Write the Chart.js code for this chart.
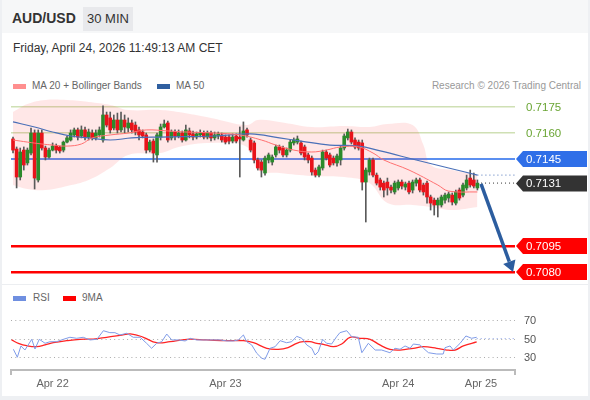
<!DOCTYPE html>
<html>
<head>
<meta charset="utf-8">
<script src="https://cdn.jsdelivr.net/npm/chart.js@4.4.1/dist/chart.umd.min.js"></script>
<style>
  html, body { margin: 0; padding: 0; }
  body { width: 590px; height: 400px; background: #eef0f3; position: relative; overflow: hidden;
         font-family: "Liberation Sans", Arial, sans-serif; }
  #card { position: absolute; left: 2px; top: 0; width: 586px; height: 396px; background: #fff; }
  #head { position: absolute; left: 2px; top: 0; width: 586px; height: 33px; background: #f6f7f8; }
  #pair { position: absolute; left: 12px; top: 10px; font-size: 14px; font-weight: bold; color: #333; }
  #tf { position: absolute; left: 83px; top: 7px; width: 50px; height: 24px; line-height: 24px; text-align: center;
        background: #e8e9ec; color: #333; font-size: 13px; }
  #date { position: absolute; left: 13px; top: 41px; font-size: 12px; color: #333; }
  .leg { position: absolute; font-size: 10px; color: #666; white-space: nowrap; }
  .sw { position: absolute; height: 5px; width: 13px; }
  #copy { position: absolute; right: 9px; top: 80px; font-size: 10px; color: #999; }
  #sep { position: absolute; left: 2px; top: 284px; width: 586px; height: 1px; background: #eceef1; }
  canvas { position: absolute; left: 0; }
  #main { top: 95px; }
  #rsi { top: 288px; }
</style>
</head>
<body>
<div id="card"></div>
<div id="head"></div>
<div id="pair">AUD/USD</div>
<div id="tf">30 MIN</div>
<div id="date">Friday, April 24, 2026 11:49:13 AM CET</div>

<div class="sw" style="left:13px;top:84px;background:#ff8f8f"></div>
<div class="leg" style="left:32px;top:80px">MA 20 + Bollinger Bands</div>
<div class="sw" style="left:157px;top:84px;background:#2f5fa0"></div>
<div class="leg" style="left:176px;top:80px">MA 50</div>
<div id="copy">Research © 2026 Trading Central</div>
<div id="sep"></div>

<div class="sw" style="left:13px;top:296px;background:#6f8fe0"></div>
<div class="leg" style="left:33px;top:292px">RSI</div>
<div class="sw" style="left:63px;top:296px;background:#ff0000"></div>
<div class="leg" style="left:82px;top:292px">9MA</div>

<canvas id="main" width="590" height="188"></canvas>
<canvas id="rsi" width="590" height="107"></canvas>

<script>
// 30 min candles, index 0 = Apr 21 18:30
const open = [0.71566,0.71508,0.71347,0.71502,0.71428,0.71485,0.71600,0.71330,0.71600,0.71514,
  0.71462,0.71502,0.71525,0.71520,0.71502,0.71548,0.71560,0.71589,0.71618,0.71583,
  0.71618,0.71577,0.71600,0.71572,0.71589,0.71560,0.71704,0.71687,0.71629,0.71675,
  0.71618,0.71675,0.71629,0.71658,0.71646,0.71618,0.71606,0.71589,0.71502,0.71554,
  0.71474,0.71577,0.71635,0.71658,0.71572,0.71606,0.71583,0.71600,0.71560,0.71612,
  0.71595,0.71577,0.71589,0.71600,0.71577,0.71600,0.71572,0.71583,0.71589,0.71577,
  0.71577,0.71554,0.71583,0.71577,0.71560,0.71618,0.71560,0.71543,0.71445,0.71433,
  0.71370,0.71445,0.71433,0.71474,0.71520,0.71514,0.71474,0.71502,0.71543,0.71548,
  0.71543,0.71520,0.71474,0.71456,0.71387,0.71358,0.71399,0.71491,0.71474,0.71456,
  0.71428,0.71445,0.71514,0.71572,0.71606,0.71560,0.71548,0.71543,0.71318,0.71376,
  0.71445,0.71358,0.71330,0.71312,0.71318,0.71289,0.71261,0.71284,0.71318,0.71289,
  0.71312,0.71272,0.71312,0.71330,0.71301,0.71312,0.71232,0.71214,0.71186,0.71186,
  0.71214,0.71226,0.71243,0.71197,0.71272,0.71243,0.71284,0.71341,0.71330,0.71284];
const high = [0.71577,0.71520,0.71514,0.71520,0.71514,0.71629,0.71618,0.71618,0.71618,0.71525,
  0.71514,0.71543,0.71537,0.71525,0.71554,0.71583,0.71618,0.71629,0.71629,0.71641,
  0.71635,0.71623,0.71618,0.71618,0.71635,0.71756,0.71721,0.71721,0.71704,0.71715,
  0.71721,0.71704,0.71687,0.71675,0.71664,0.71635,0.71618,0.71600,0.71560,0.71566,
  0.71600,0.71652,0.71675,0.71669,0.71618,0.71618,0.71618,0.71612,0.71646,0.71629,
  0.71612,0.71606,0.71618,0.71612,0.71612,0.71612,0.71606,0.71606,0.71600,0.71589,
  0.71589,0.71595,0.71595,0.71635,0.71664,0.71629,0.71572,0.71554,0.71456,0.71445,
  0.71468,0.71485,0.71474,0.71531,0.71531,0.71525,0.71514,0.71560,0.71572,0.71583,
  0.71554,0.71531,0.71485,0.71468,0.71399,0.71416,0.71502,0.71502,0.71485,0.71468,
  0.71479,0.71525,0.71595,0.71623,0.71618,0.71572,0.71560,0.71560,0.71399,0.71456,
  0.71456,0.71370,0.71341,0.71324,0.71341,0.71301,0.71324,0.71330,0.71330,0.71318,
  0.71324,0.71330,0.71341,0.71341,0.71312,0.71324,0.71243,0.71226,0.71226,0.71243,
  0.71255,0.71261,0.71255,0.71272,0.71284,0.71312,0.71358,0.71387,0.71370,0.71330];
const low = [0.71485,0.71284,0.71330,0.71387,0.71416,0.71474,0.71278,0.71318,0.71502,0.71445,
  0.71456,0.71497,0.71485,0.71485,0.71491,0.71543,0.71554,0.71577,0.71560,0.71572,
  0.71560,0.71560,0.71560,0.71560,0.71577,0.71548,0.71635,0.71600,0.71618,0.71600,
  0.71606,0.71600,0.71606,0.71600,0.71589,0.71560,0.71572,0.71485,0.71491,0.71433,
  0.71433,0.71560,0.71629,0.71548,0.71560,0.71560,0.71572,0.71548,0.71554,0.71572,
  0.71560,0.71566,0.71577,0.71566,0.71566,0.71554,0.71560,0.71566,0.71548,0.71537,
  0.71537,0.71543,0.71543,0.71347,0.71554,0.71577,0.71491,0.71428,0.71387,0.71347,
  0.71358,0.71428,0.71416,0.71462,0.71485,0.71462,0.71462,0.71491,0.71531,0.71537,
  0.71474,0.71445,0.71428,0.71358,0.71347,0.71347,0.71387,0.71445,0.71405,0.71416,
  0.71410,0.71416,0.71502,0.71560,0.71537,0.71508,0.71502,0.71272,0.71088,0.71358,
  0.71347,0.71301,0.71272,0.71232,0.71243,0.71255,0.71249,0.71272,0.71278,0.71272,
  0.71249,0.71255,0.71295,0.71261,0.71243,0.71197,0.71157,0.71128,0.71117,0.71174,
  0.71197,0.71203,0.71186,0.71186,0.71214,0.71232,0.71272,0.71289,0.71284,0.71272];
const close = [0.71502,0.71347,0.71491,0.71416,0.71502,0.71600,0.71341,0.71600,0.71514,0.71462,
  0.71502,0.71525,0.71502,0.71497,0.71548,0.71572,0.71600,0.71618,0.71577,0.71618,
  0.71577,0.71606,0.71572,0.71600,0.71618,0.71704,0.71646,0.71618,0.71675,0.71618,
  0.71675,0.71635,0.71658,0.71618,0.71606,0.71589,0.71583,0.71502,0.71548,0.71485,
  0.71589,0.71635,0.71652,0.71560,0.71606,0.71583,0.71600,0.71560,0.71618,0.71589,
  0.71577,0.71595,0.71600,0.71577,0.71600,0.71572,0.71589,0.71595,0.71560,0.71548,
  0.71554,0.71577,0.71554,0.71566,0.71612,0.71589,0.71502,0.71445,0.71399,0.71387,
  0.71456,0.71474,0.71462,0.71520,0.71502,0.71474,0.71502,0.71548,0.71560,0.71566,
  0.71485,0.71462,0.71445,0.71376,0.71358,0.71405,0.71491,0.71456,0.71416,0.71428,
  0.71468,0.71514,0.71583,0.71606,0.71548,0.71520,0.71514,0.71318,0.71387,0.71445,
  0.71358,0.71312,0.71289,0.71272,0.71284,0.71272,0.71312,0.71318,0.71295,0.71307,
  0.71261,0.71318,0.71330,0.71272,0.71261,0.71232,0.71197,0.71186,0.71214,0.71232,
  0.71243,0.71249,0.71203,0.71261,0.71226,0.71301,0.71330,0.71301,0.71295,0.71312];

// moving averages / bands, sampled at candle indices
const ma50X = [0, 6, 11, 16, 21, 27, 33, 41, 56, 66, 74, 80, 88, 96, 102, 112, 121, 129];
const ma50 = [0.71664,0.71635,0.71606,0.71583,0.71572,0.71560,0.71572,0.71577,0.71583,0.71595,
  0.71572,0.71554,0.71531,0.71525,0.71497,0.71445,0.71399,0.71358];
const ma20X = [0, 4, 8, 11, 15, 19, 22, 27, 32, 37, 43, 48, 56, 63, 69, 73, 78, 83, 87, 91, 96, 100, 103, 110, 118, 121, 129];
const ma20 = [0.71560,0.71548,0.71537,0.71531,0.71525,0.71537,0.71572,0.71589,0.71600,0.71618,
  0.71612,0.71606,0.71600,0.71589,0.71560,0.71531,0.71502,0.71491,0.71502,0.71520,
  0.71520,0.71485,0.71445,0.71387,0.71301,0.71266,0.71261];
const bandX = [0, 4, 9, 15, 21, 27, 32, 41, 46, 55, 65, 68, 74, 83, 92, 99, 104, 111, 114, 116, 122, 129];
const bandUp = [0.71721,0.71767,0.71790,0.71790,0.71779,0.71762,0.71733,0.71733,0.71721,0.71687,
  0.71646,0.71675,0.71664,0.71635,0.71641,0.71635,0.71652,0.71646,0.71531,0.71416,0.71387,0.71358];
const bandLow = [0.71301,0.71278,0.71272,0.71295,0.71330,0.71399,0.71474,0.71485,0.71520,0.71543,
  0.71520,0.71387,0.71370,0.71353,0.71347,0.71312,0.71197,0.71186,0.71180,0.71174,0.71157,0.71174];

// levels at the right
const levels = [0.7175, 0.7160, 0.7145, 0.7131, 0.7095, 0.7080];
const levelText = ["0.7175", "0.7160", "0.7145", "0.7131", "0.7095", "0.7080"];
const arrowFrom = [130, 0.71307];
const arrowTo = [138.9, 0.7080];

// RSI panel
const rsiX = [0.1,1.2,2.2,3.3,5.2,6.1,7.3,8.9,10.3,12.1,14,15.8,17.7,19.5,21.4,23.3,25.1,26.9,28.3,29.7,
  31.6,33.4,35.3,37.1,38.5,39.9,41.3,42.7,44.1,45.9,47.8,49.2,51,52.9,54.7,57.5,59.4,61.2,62.6,64,
  64.9,66.3,67.7,69.1,70,71.4,72.8,74.2,76,77.4,78.8,80.2,81.6,83,83.9,84.8,86,87.1,88.5,89.9,
  90.8,92.7,94.1,95.9,96.9,98.7,100.6,102.4,104.7,106.1,107.5,108.9,110.3,111.2,113.1,114,115.4,117.7,119.5,120,
  121.4,122.3,124.2,125.8,127.4,128.8];
const rsi = [39.4,30.8,43,38.6,50.2,39.7,50.2,45.9,47.6,47.6,50.2,52.4,51.3,52.4,49.5,50.2,59.5,57.4,57.4,54.9,
  56.7,52.4,52.4,45.9,40.5,45.9,47.6,55.9,49.5,49.5,48.4,51.3,49.5,49.5,49.5,49.5,48.4,48.4,49.5,54.9,
  47.6,44.1,35.1,29.7,28.6,40.5,42.2,48.7,46.5,47.6,53.4,51.3,44.1,40.5,33.2,36.8,50.2,45.9,45.1,53,
  57.4,59.5,53,52.4,35.7,45.9,38.6,38.6,35.7,40.5,39.4,43,40.5,45.1,44.1,40.5,35.7,34.3,34.3,41.1,
  43,38.6,45.9,53.8,51.3,52.4];
const rsiMaX = [-0.4,1.5,3.8,6.6,8.9,11.2,14.9,18.6,22.3,26,29.7,33,36.2,39.9,43.6,48.3,53.8,59.4,64,66.8,
  70.5,73.7,76.4,78.8,80.6,82.5,84.4,86.2,89,91.3,93.6,96.4,99.2,101.9,104.7,107.5,111.2,114,117.7,120.5,
  122.8,125.1,128.8];
const rsiMa = [49.5,45.9,43.3,42.2,44.1,46.5,48.7,50.2,50.5,52.4,54.5,55.9,52.4,46.5,47.6,50.2,49.5,48.7,48.7,46.5,
  40.5,39.4,41.3,45.9,47.6,47.6,45.9,44.8,42.2,45.1,52.4,51.3,50.2,44.1,39.4,38.6,40.5,42.2,40.5,38.6,
  38.6,43,47.3];
const rsiLevels = [30, 50, 70];
const rsiNow = 51;

const dayTicks = [11, 59, 107, 130];
const dayLabels = ["Apr 22", "Apr 23", "Apr 24", "Apr 25"];
const xMin = -0.56, xMax = 139.44;

const pts = (xs, ys) => xs.map((x, k) => ({ x: x, y: ys[k] }));
const idx = open.map((_, k) => k);
const upDown = idx.map(k => close[k] >= open[k] ? "#2b8a2b" : "#e8131a");
const last = open.length - 1;
const font11 = { family: "'Liberation Sans', Arial, sans-serif", size: 11 };

const levelLine = ["#cfe0b4", "#cfe0b4", "#5b8ff0", "rgba(0,0,0,0)", "#ff0000", "#ff0000"];
const levelWidth = [1.5, 1.5, 2, 0, 2.5, 2.5];
const levelBox = [null, null, "#2f6fe8", "#333333", "#ff0000", "#ff0000"];

const levelLabels = {
  id: "levelLabels",
  afterDraw(chart) {
    const { ctx, scales: { y } } = chart;
    ctx.save();
    ctx.font = "11.5px 'Liberation Sans', Arial, sans-serif";
    ctx.textBaseline = "middle";
    levels.forEach((v, k) => {
      const py = y.getPixelForValue(v);
      if (levelBox[k]) {
        ctx.fillStyle = levelBox[k];
        ctx.beginPath();
        ctx.moveTo(516, py);
        ctx.lineTo(523, py - 8);
        ctx.lineTo(587, py - 8);
        ctx.lineTo(587, py + 8);
        ctx.lineTo(523, py + 8);
        ctx.closePath();
        ctx.fill();
        ctx.fillStyle = "#fff";
      } else {
        ctx.fillStyle = "#6aa534";
      }
      ctx.fillText(levelText[k], 526, py + 0.5);
    });
    ctx.restore();
  }
};

const arrow = {
  id: "arrow",
  afterDatasetsDraw(chart) {
    const { ctx, scales: { x, y } } = chart;
    const x0 = x.getPixelForValue(arrowFrom[0]), y0 = y.getPixelForValue(arrowFrom[1]);
    const x1 = x.getPixelForValue(arrowTo[0]), y1 = y.getPixelForValue(arrowTo[1]);
    const len = Math.hypot(x1 - x0, y1 - y0);
    const ux = (x1 - x0) / len, uy = (y1 - y0) / len;
    const bx = x1 - ux * 11, by = y1 - uy * 11;
    ctx.save();
    ctx.strokeStyle = "#2c5d9f";
    ctx.fillStyle = "#2c5d9f";
    ctx.lineWidth = 3.5;
    ctx.beginPath();
    ctx.moveTo(x0, y0);
    ctx.lineTo(bx, by);
    ctx.stroke();
    ctx.beginPath();
    ctx.moveTo(x1, y1);
    ctx.lineTo(bx - uy * 6.5, by + ux * 6.5);
    ctx.lineTo(bx + uy * 6.5, by - ux * 6.5);
    ctx.closePath();
    ctx.fill();
    ctx.restore();
  }
};

new Chart(document.getElementById("main"), {
  type: "line",
  data: {
    datasets: [
      { data: pts(bandX, bandUp), borderWidth: 0, pointRadius: 0, tension: 0.4, fill: false, order: 10 },
      { data: pts(bandX, bandLow), borderWidth: 0, pointRadius: 0, tension: 0.4, fill: 0,
        backgroundColor: "rgba(255,70,70,0.13)", order: 10 },
      { type: "bar", data: idx.map(k => ({ x: k, y: [low[k], high[k]] })), backgroundColor: "#5a5a5a",
        barThickness: 1, grouped: false, order: 4 },
      { type: "bar", data: idx.map(k => ({ x: k, y: [open[k], close[k]] })), backgroundColor: upDown,
        barThickness: 3, grouped: false, minBarLength: 1, order: 3 },
      { data: pts(ma20X, ma20), borderColor: "#ff7070", borderWidth: 1, pointRadius: 0, tension: 0.4, order: 2 },
      { data: pts(ma50X, ma50), borderColor: "#4a70b8", borderWidth: 1.2, pointRadius: 0, tension: 0.4, order: 2 },
      { data: [{ x: last, y: ma50[ma50.length - 1] }, { x: xMax, y: ma50[ma50.length - 1] }],
        borderColor: "#4a70b8", borderWidth: 1, borderDash: [1, 3], pointRadius: 0, order: 1 },
      { data: [{ x: last + 1, y: close[last] }, { x: xMax, y: close[last] }],
        borderColor: "#333", borderWidth: 1, borderDash: [1, 3], pointRadius: 0, order: 1 }
    ]
  },
  options: {
    responsive: false,
    animation: false,
    devicePixelRatio: 1,
    layout: { padding: { left: 11, right: 0, top: 0, bottom: 0 } },
    plugins: { legend: { display: false }, tooltip: { enabled: false } },
    scales: {
      x: { type: "linear", display: false, min: xMin, max: xMax, offset: false },
      y: {
        position: "right", min: 0.70737, max: 0.71819,
        afterBuildTicks: a => { a.ticks = levels.map(v => ({ value: v })); },
        afterFit: a => { a.width = 75; },
        ticks: { display: false },
        grid: { drawTicks: false, color: c => levelLine[c.index], lineWidth: c => levelWidth[c.index] },
        border: { display: false }
      }
    }
  },
  plugins: [levelLabels, arrow]
});

new Chart(document.getElementById("rsi"), {
  type: "line",
  data: {
    datasets: [
      { data: pts(rsiMaX, rsiMa), borderColor: "#ff2424", borderWidth: 1.3, pointRadius: 0, tension: 0.4, order: 2 },
      { data: pts(rsiX, rsi), borderColor: "#7f9be8", borderWidth: 1, pointRadius: 0, tension: 0, order: 1 },
      { data: [{ x: rsiX[rsiX.length - 1], y: rsiNow }, { x: xMax, y: rsiNow }], borderColor: "#8fa6ea",
        borderWidth: 1, borderDash: [1, 3], pointRadius: 0, order: 1 }
    ]
  },
  options: {
    responsive: false,
    animation: false,
    devicePixelRatio: 1,
    layout: { padding: { left: 11, right: 0, top: 17, bottom: 0 } },
    plugins: { legend: { display: false }, tooltip: { enabled: false } },
    scales: {
      x: {
        type: "linear", min: xMin, max: xMax, offset: false,
        afterBuildTicks: a => { a.ticks = [xMin, ...dayTicks, xMax].map(v => ({ value: v })); },
        afterFit: a => { a.height = 25; },
        ticks: {
          autoSkip: false, maxRotation: 0, color: "#666", padding: 2, font: font11,
          callback: v => { const k = dayTicks.indexOf(v); return k < 0 ? "" : dayLabels[k]; }
        },
        grid: {
          drawOnChartArea: false, tickLength: 5, lineWidth: 2,
          color: c => (c.index === 0 || c.index === dayTicks.length + 1) ? "#bbbbbb" : "rgba(0,0,0,0)"
        },
        border: { color: "#bbbbbb", width: 2 }
      },
      y: {
        position: "right", min: 17, max: 87.3,
        afterBuildTicks: a => { a.ticks = rsiLevels.map(v => ({ value: v })); },
        afterFit: a => { a.width = 75; },
        ticks: { color: "#555", padding: 9, font: font11 },
        grid: { drawTicks: false, color: "#aaaaaa", lineWidth: 1 },
        border: { display: false, dash: [1, 3.3] }
      }
    }
  }
});
</script>
</body>
</html>
